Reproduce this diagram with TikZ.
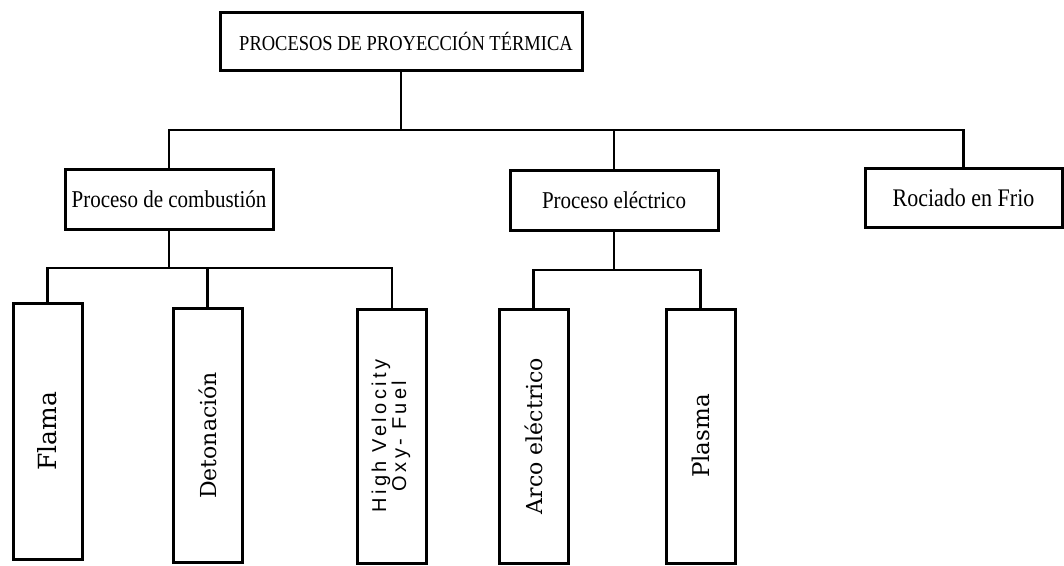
\documentclass[tikz,border=0pt]{standalone}
\usepackage{fontspec}
\setmainfont{Liberation Serif}
\newfontfamily\slabfont{DejaVu Serif}
\newfontfamily\hvfont{Liberation Sans}[LetterSpace=17]
\newcommand{\tallt}[1]{\scalebox{1}[1.15]{#1}}
\begin{document}
\begin{tikzpicture}[x=1pt,y=-1pt,
  hbox/.style={draw,line width=3pt,fill=white,inner sep=0pt,minimum height=60pt},
  vbox/.style={draw,line width=3pt,fill=white,inner sep=0pt,minimum width=69pt,minimum height=254pt},
  conn/.style={line width=2.6pt},
  htext/.style={font=\fontsize{21}{24}\selectfont},
  vtext/.style={font=\slabfont\fontsize{22}{24}\selectfont}]
\fill[white] (0,0) rectangle (1064,565);
\useasboundingbox (0,0) rectangle (1064,565);
% level 0
\node[hbox,minimum width=362pt,minimum height=58pt,font=\fontsize{18.5}{20}\selectfont] (top) at (401,41) {\hspace{10pt}\tallt{PROCESOS DE PROYECCIÓN TÉRMICA}};
% level 1
\node[hbox,htext,minimum width=208pt] (comb) at (169,199) {\tallt{Proceso de combustión}};
\node[hbox,htext,minimum width=208pt] (elec) at (614,200) {\tallt{Proceso eléctrico}};
\node[hbox,minimum width=197pt,minimum height=59pt,font=\fontsize{22}{24}\selectfont] (roc) at (963.5,197.5) {\tallt{Rociado en Frio}};
% level 2
\node[vbox,minimum height=256pt,font=\slabfont\fontsize{25}{27}\selectfont] (flama) at (47.5,431) {\rotatebox{90}{Flama}};
\node[vbox,vtext] (deton) at (207.5,435.5) {\rotatebox{90}{Detonación}};
\node[vbox] (hvof) at (392,436) {\rotatebox{90}{\hvfont\fontsize{20}{21}\selectfont\begin{tabular}{@{}c@{}}High Velocity\\[-1pt]Oxy- Fuel\end{tabular}}};
\node[vbox,vtext] (arco) at (533.5,436) {\rotatebox{90}{Arco eléctrico}};
\node[vbox,font=\slabfont\fontsize{23}{25}\selectfont] (plasma) at (700.5,436) {\rotatebox{90}{Plasma}};
% connectors
\coordinate (bus0) at (0,130);
\coordinate (bus1) at (0,268);
\coordinate (bus2) at (0,270);
\draw[conn] (top.south) -- (top.south |- bus0);
\draw[conn] (comb.north) -- (comb.north |- bus0) -| (roc.north);
\draw[conn] (elec.north) -- (elec.north |- bus0);
\draw[conn] (comb.south) -- (comb.south |- bus1);
\draw[conn] (flama.north) -- (flama.north |- bus1) -| (hvof.north);
\draw[conn] (deton.north) -- (deton.north |- bus1);
\draw[conn] (elec.south) -- (elec.south |- bus2);
\draw[conn] (arco.north) -- (arco.north |- bus2) -| (plasma.north);
\end{tikzpicture}
\end{document}
